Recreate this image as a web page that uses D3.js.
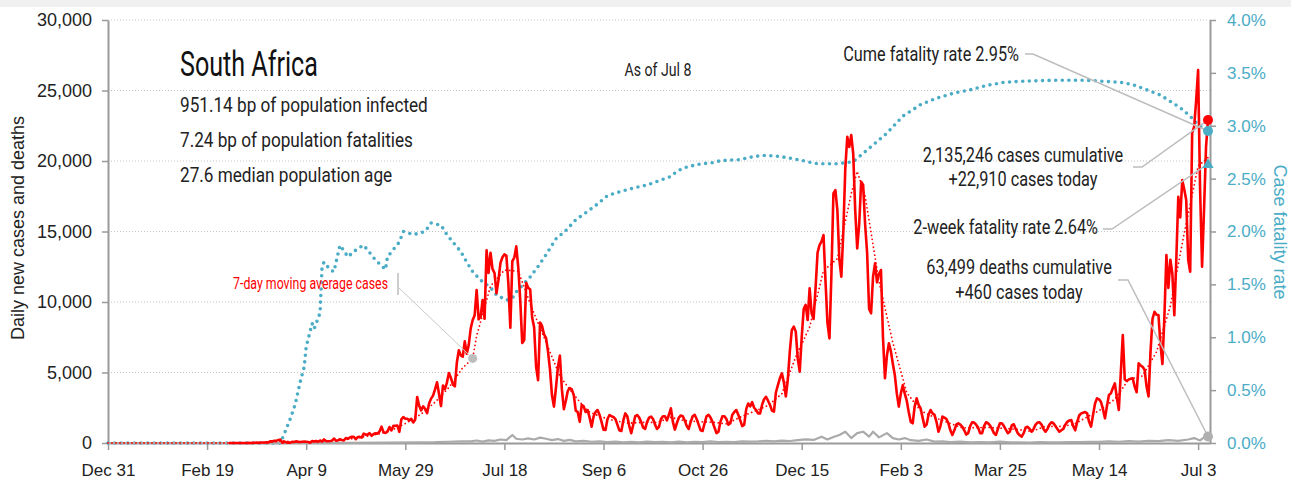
<!DOCTYPE html>
<html>
<head>
<meta charset="utf-8">
<script src="https://cdn.jsdelivr.net/npm/d3@7"></script>
<style>
  body { margin: 0; background: #fff; }
</style>
</head>
<body>
<script>
// all days are counted from Dec 31, 2019 (day 0)
var dayZero = Date.UTC(2019, 11, 31);
var lastAxisDay = 556;

// daily new cases, one value per day starting Mar 1, 2020 (day 61)
var casesFirstDay = 61;
var dailyCases = [
  0, 0, 0, 0, 1, 0, 1,
  1, 4, 0, 6, 3, 7, 14,
  24, 11, 31, 31, 34, 52, 38,
  128, 128, 152, 155, 218, 243, 17,
  93, 46, 27, 27, 82, 75, 123,
  77, 68, 92, 96, 87, 69, 25,
  145, 99, 143, 86, 178, 99, 251,
  143, 124, 142, 165, 318, 170, 188,
  267, 212, 179, 354, 297, 385, 437,
  447, 274, 424, 437, 380, 663, 595,
  595, 698, 511, 637, 685, 665, 817,
  1160, 767, 716, 803, 1134, 894, 1218,
  1218, 1240, 790, 1673, 1837, 1727, 1716,
  1605, 1716, 1455, 1671, 3267, 2642, 2312,
  2594, 2430, 2112, 2801, 3147, 3359, 3809,
  4302, 3494, 2618, 4078, 3825, 4288, 4966,
  4621, 4150, 4018, 5688, 6579, 6215, 6120,
  7210, 6334, 6945, 8124, 8728, 9063, 10853,
  8773, 8971, 10134, 8810, 13674, 12058, 13497,
  12348, 12058, 10621, 11554, 12757, 13172, 13373,
  13285, 11300, 8170, 12900, 13150, 13944, 12444,
  10100, 7100, 7300, 11360, 11000, 10900, 8900,
  8200, 5400, 4450, 8550, 8300, 7700, 7460,
  6500, 5200, 3400, 2580, 3900, 5400, 6200,
  3800, 2400, 3000, 3700, 3900, 3800, 3400,
  2300, 2200, 1500, 2700, 2600, 2200, 2340,
  1800, 1160, 1900, 2200, 2340, 2000, 1500,
  950, 920, 1700, 1985, 1900, 1850, 1700,
  1300, 900, 850, 1600, 2100, 1900, 1200,
  690, 1300, 1900, 1985, 1800, 1500, 1100,
  1000, 1500, 1800, 1870, 1700, 1300, 1000,
  1150, 1700, 1900, 1900, 1600, 2000, 2460,
  1500, 950, 1400, 1800, 1950, 1900, 1600,
  1200, 1000, 1500, 1900, 2000, 1700, 1300,
  900, 850, 1400, 1900, 2000, 1800, 1500,
  1100, 700, 800, 1500, 1900, 1900, 1700,
  1300, 1400, 2000, 2200, 2340, 2000, 1600,
  1200, 1300, 2400, 2800, 2600, 2900, 2500,
  2340, 2100, 2100, 2700, 3100, 3280, 3000,
  2700, 2300, 2220, 3600, 4110, 4600, 4940,
  4300, 3300, 4500, 6500, 8000, 8250, 7900,
  6000, 5060, 7500, 9500, 9800, 8720, 10970,
  9200, 8800, 11000, 13500, 14040, 14300, 14750,
  11500, 8500, 7420, 12000, 17700, 17940, 16500,
  13000, 11790, 15000, 19500, 21720, 21000, 21840,
  20500, 16500, 13800, 15500, 18530, 18300, 15500,
  13500, 9500, 9200, 11800, 12740, 11400, 12000,
  12270, 7500, 4590, 6200, 7070, 6500, 5600,
  4800, 3500, 2580, 3500, 4100, 3500, 3000,
  2200, 1500, 1400, 2600, 3170, 2700, 2450,
  1800, 1160, 1300, 2000, 2340, 2100, 2000,
  1500, 800, 1200, 1870, 1800, 1700, 1400,
  900, 570, 900, 1300, 1400, 1300, 1160,
  900, 600, 700, 1200, 1470, 1450, 1300,
  1100, 700, 700, 1200, 1470, 1400, 1250,
  1000, 700, 570, 1000, 1400, 1400, 1200,
  950, 700, 800, 1250, 1330, 1000, 700,
  550, 450, 700, 1100, 1150, 1000, 800,
  1000, 1300, 1450, 1470, 1300, 1000, 800,
  1000, 1300, 1470, 1400, 1200, 1000, 800,
  900, 1000, 1300, 1500, 1600, 1630, 1200,
  900, 1500, 1950, 2100, 2150, 2200, 2100,
  1500, 1160, 2000, 2800, 3170, 3100, 2900,
  2400, 1750, 2600, 3400, 3520, 3900, 4230,
  3200, 2340, 5000, 7660, 4500, 4400, 4500,
  4550, 4590, 4000, 3600, 5650, 5500, 5400,
  5200, 4000, 3300, 6500, 8800, 9310, 9100,
  9070, 7000, 5600, 9000, 13330, 11000, 13000,
  12000, 9070, 13000, 17460, 16000, 18650, 18000,
  17230, 13000, 12150, 21980, 22430, 24270, 26450,
  18000, 12500, 16585, 21000, 22910
];

// 7-day moving average of cases (dotted red)
var avgDays = [0, 67, 74, 81, 88, 95, 102, 109, 116, 123,
  130, 137, 144, 151, 158, 165, 172, 179, 184, 186,
  193, 200, 207, 214, 221, 228, 235, 242, 249, 256,
  263, 270, 277, 284, 291, 298, 305, 312, 319, 326,
  333, 340, 347, 354, 361, 368, 375, 378, 382, 389,
  396, 403, 410, 417, 424, 431, 438, 445, 452, 459,
  466, 473, 480, 487, 494, 501, 508, 515, 522, 529,
  536, 543, 550, 555];
var avgCases = [0, 0, 5, 32, 149, 68, 73, 143, 179, 304,
  460, 658, 956, 1457, 2052, 2893, 3939, 5342, 6000, 7600,
  11131, 12269, 12185, 9523, 7151, 4740, 3429, 2263, 1843, 1572,
  1407, 1468, 1453, 1816, 1586, 1514, 1479, 1357, 1834, 2243,
  2660, 3496, 6107, 8221, 12227, 13080, 17693, 19266, 17519, 11449,
  7104, 3569, 2289, 1814, 1439, 1076, 1089, 1103, 1039, 962,
  821, 1189, 1167, 1304, 1843, 2376, 3114, 4514, 4756, 6459,
  9714, 14883, 19644, 20245];
var avgNoteDay = 184;

// daily deaths (grey)
var deathDays = [0, 86, 100, 120, 140, 155, 165, 172, 178, 183,
  186, 189, 192, 195, 198, 201, 204, 206, 209, 212,
  215, 218, 221, 224, 227, 230, 233, 236, 240, 244,
  248, 252, 256, 260, 264, 268, 272, 276, 280, 284,
  288, 292, 296, 300, 304, 308, 312, 316, 320, 324,
  328, 332, 336, 340, 344, 348, 352, 356, 360, 363,
  366, 369, 372, 375, 378, 381, 384, 386, 389, 393,
  396, 399, 402, 405, 409, 413, 417, 421, 425, 430,
  435, 440, 445, 450, 455, 460, 465, 470, 475, 480,
  485, 490, 495, 500, 505, 510, 515, 520, 525, 530,
  535, 540, 545, 548, 551, 553, 555];
var dailyDeaths = [0, 0, 5, 10, 25, 50, 60, 90, 110, 110,
  180, 100, 190, 150, 250, 200, 570, 300, 250, 330,
  250, 380, 300, 200, 280, 150, 220, 120, 150, 90,
  120, 60, 100, 50, 80, 40, 100, 60, 90, 40,
  100, 50, 90, 60, 110, 70, 90, 60, 120, 100,
  110, 150, 110, 170, 140, 200, 260, 220, 450, 250,
  420, 570, 800, 350, 700, 800, 450, 800, 400, 700,
  350, 250, 350, 200, 150, 250, 100, 120, 60, 100,
  40, 60, 50, 100, 40, 50, 30, 60, 40, 50,
  70, 60, 90, 80, 110, 90, 130, 100, 150, 130,
  200, 150, 250, 350, 180, 400, 460];

// cumulative case fatality rate, percent (dotted teal, right axis)
var cfrDays = [0, 87, 89, 92, 94, 95, 97, 99, 100, 103,
  104, 107, 108, 109, 112, 114, 117, 119, 121, 126,
  129, 135, 140, 141, 144, 147, 149, 154, 160, 163,
  168, 171, 174, 178, 181, 184, 188, 193, 196, 201,
  204, 206, 210, 213, 217, 221, 226, 231, 236, 242,
  247, 252, 259, 265, 272, 278, 284, 287, 292, 299,
  305, 309, 319, 326, 332, 339, 348, 358, 368, 376,
  383, 393, 401, 410, 418, 427, 435, 443, 452, 460,
  477, 494, 511, 517, 524, 531, 536, 541, 546, 550,
  555];
var cfrPct = [0, 0, 0.09, 0.23, 0.34, 0.41, 0.58, 0.72, 0.91, 1.13,
  1.08, 1.23, 1.67, 1.71, 1.64, 1.62, 1.87, 1.82, 1.76, 1.84,
  1.87, 1.73, 1.64, 1.76, 1.83, 1.90, 2.00, 1.97, 2.00, 2.08,
  2.06, 1.97, 1.90, 1.81, 1.71, 1.62, 1.54, 1.47, 1.40, 1.35,
  1.37, 1.43, 1.51, 1.57, 1.67, 1.78, 1.93, 2.01, 2.11, 2.19,
  2.26, 2.34, 2.38, 2.41, 2.44, 2.48, 2.52, 2.57, 2.61, 2.64,
  2.65, 2.67, 2.68, 2.71, 2.72, 2.71, 2.68, 2.64, 2.64, 2.66,
  2.77, 2.93, 3.09, 3.20, 3.26, 3.31, 3.34, 3.38, 3.41, 3.42,
  3.43, 3.43, 3.41, 3.39, 3.34, 3.29, 3.23, 3.17, 3.09, 3.01,
  2.95];

// latest figures (Jul 8, 2021)
var latestDay = 555;
var casesToday = 22910;
var deathsToday = 460;
var totalCases = 2135246;
var totalDeaths = 63499;
var cumeFatality = 2.95;
var twoWeekFatality = 2.64;

var countryName = "South Africa";
var infoLines = ["951.14 bp of population infected", "7.24 bp of population fatalities", "27.6 median population age"];
var asOfText = "As of Jul 8";

// ticks
var xTickDays = [0, 50, 100, 150, 200, 250, 300, 350, 400, 450, 500, 550];
var yTicks = [0, 5000, 10000, 15000, 20000, 25000, 30000];
var rateTicks = [0, 0.5, 1, 1.5, 2, 2.5, 3, 3.5, 4];

// set the dimensions of the plot area
var W = 1291, H = 480;
var plot = {left: 108, right: 1210, top: 20, bottom: 443};

var red = "#ff0000", teal = "#4bacc6", grey = "#aaaaaa", axisGrey = "#9a9a9a", leader = "#bdbdbd";
var cond = 'Roboto, "Liberation Sans", sans-serif';
var plain = '"Liberation Sans", Arial, sans-serif';

function day(d) {
  return new Date(dayZero + d * 86400000);
}

var x = d3.scaleUtc()
  .domain([day(0), day(lastAxisDay)])
  .range([plot.left, plot.right]);
var y = d3.scaleLinear()
  .domain([0, 30000])
  .range([plot.bottom, plot.top]);
var yRate = d3.scaleLinear()
  .domain([0, 4])
  .range([plot.bottom, plot.top]);

var svg = d3.select("body").append("svg")
  .attr("width", W)
  .attr("height", H);

// thin grey band at the very top
svg.append("rect")
  .attr("x", 0).attr("y", 0)
  .attr("width", W).attr("height", 7)
  .attr("fill", "#f0f0f0");

// dotted gridlines
svg.append("g")
  .selectAll("line")
  .data(yTicks.filter(function (t) { return t > 0; }))
  .enter()
  .append("line")
  .attr("x1", plot.left)
  .attr("x2", plot.right)
  .attr("y1", function (d) { return y(d); })
  .attr("y2", function (d) { return y(d); })
  .attr("stroke", "#c4c4c4")
  .attr("stroke-width", 1)
  .attr("stroke-dasharray", "1,2");

// axes
var gx = svg.append("g")
  .attr("transform", "translate(0," + plot.bottom + ")")
  .call(d3.axisBottom(x)
    .tickValues(xTickDays.map(day))
    .tickFormat(d3.utcFormat("%b %-d"))
    .tickSize(7)
    .tickSizeOuter(0)
    .tickPadding(14));

var gy = svg.append("g")
  .attr("transform", "translate(" + plot.left + ",0)")
  .call(d3.axisLeft(y)
    .tickValues(yTicks)
    .tickFormat(d3.format(","))
    .tickSize(6)
    .tickSizeOuter(0)
    .tickPadding(10));

var gr = svg.append("g")
  .attr("transform", "translate(" + plot.right + ",0)")
  .call(d3.axisRight(yRate)
    .tickValues(rateTicks)
    .tickFormat(function (d) { return d.toFixed(1) + "%"; })
    .tickSize(6)
    .tickSizeOuter(0)
    .tickPadding(11));

[gx, gy, gr].forEach(function (g) {
  g.select(".domain").attr("stroke", axisGrey).attr("stroke-width", 2);
  g.selectAll(".tick line").attr("stroke", axisGrey).attr("stroke-width", 1.5);
  g.selectAll(".tick text")
    .style("font-family", plain)
    .style("font-size", "17px")
    .attr("fill", "#222");
});
gy.selectAll(".tick text").style("font-size", "18px");
gr.selectAll(".tick text").attr("fill", teal);

// axis titles
svg.append("text")
  .attr("transform", "translate(24,228) rotate(-90)")
  .style("text-anchor", "middle")
  .style("font-family", plain)
  .style("font-size", "18px")
  .attr("fill", "#222")
  .text("Daily new cases and deaths");

svg.append("text")
  .attr("transform", "translate(1274,232) rotate(90)")
  .style("text-anchor", "middle")
  .style("font-family", plain)
  .style("font-size", "18px")
  .attr("fill", teal)
  .text("Case fatality rate");

// series
var caseData = dailyCases.map(function (v, i) { return {d: casesFirstDay + i, v: v}; });
var avgData = avgDays.map(function (d, i) { return {d: d, v: avgCases[i]}; });
var deathData = deathDays.map(function (d, i) { return {d: d, v: dailyDeaths[i]}; });
var cfrData = cfrDays.map(function (d, i) { return {d: d, v: cfrPct[i]}; });

var countLine = d3.line()
  .x(function (p) { return x(day(p.d)); })
  .y(function (p) { return y(p.v); });
var rateLine = d3.line()
  .x(function (p) { return x(day(p.d)); })
  .y(function (p) { return yRate(p.v); });

svg.append("path")
  .datum(cfrData)
  .attr("fill", "none")
  .attr("stroke", teal)
  .attr("stroke-width", 3.6)
  .attr("stroke-linecap", "round")
  .attr("stroke-dasharray", "0,6.6")
  .attr("d", rateLine);

svg.append("path")
  .datum(deathData)
  .attr("fill", "none")
  .attr("stroke", grey)
  .attr("stroke-width", 2.2)
  .attr("stroke-linejoin", "round")
  .attr("d", countLine);

svg.append("path")
  .datum(caseData)
  .attr("fill", "none")
  .attr("stroke", red)
  .attr("stroke-width", 2.6)
  .attr("stroke-linejoin", "round")
  .attr("d", countLine);

svg.append("path")
  .datum(avgData)
  .attr("fill", "none")
  .attr("stroke", red)
  .attr("stroke-width", 1.8)
  .attr("stroke-linecap", "round")
  .attr("stroke-dasharray", "0,4")
  .attr("d", countLine);

// text helper: the reference uses a narrow face, so squeeze Roboto sideways.
// sx is the horizontal scale, xx/yy the anchor point
function label(txt, xx, yy, size, sx, anchor, color) {
  return svg.append("text")
    .attr("transform", "translate(" + xx + "," + yy + ") scale(" + sx + ",1)")
    .style("text-anchor", anchor || "start")
    .style("font-family", cond)
    .style("font-size", size + "px")
    .attr("fill", color || "#222")
    .text(txt);
}
// scale that makes a string fit a width measured on the reference
function fitScale(txt, size, width) {
  var t = svg.append("text")
    .style("font-family", cond)
    .style("font-size", size + "px")
    .text(txt);
  var w = t.node().getComputedTextLength();
  t.remove();
  return width / w;
}

// text block top left
label(countryName, 180, 76, 35, fitScale(countryName, 35, 138), "start", "#111");

var infoScale = fitScale(infoLines[0], 20, 248);
infoLines.forEach(function (t, i) {
  label(t, 180, 112 + i * 35, 20, infoScale);
});

label(asOfText, 658, 76, 18, fitScale(asOfText, 18, 67), "middle");

// right side annotations
var lastX = x(day(latestDay));
var fmt = d3.format(",");
var cumeText = "Cume fatality rate " + cumeFatality.toFixed(2) + "%";
var noteScale = fitScale(cumeText, 20, 176);

function leaderLine(pts) {
  svg.append("path")
    .attr("d", d3.line()(pts))
    .attr("fill", "none")
    .attr("stroke", leader)
    .attr("stroke-width", 1.5);
}

label(cumeText, 1019, 61, 20, noteScale, "end");
leaderLine([[1025, 54], [1033, 54], [lastX, yRate(cumeFatality)]]);

label(fmt(totalCases) + " cases cumulative", 1023, 162, 20, noteScale, "middle");
label("+" + fmt(casesToday) + " cases today", 1023, 186, 20, noteScale, "middle");
leaderLine([[1133, 167], [1142, 167], [lastX, y(casesToday)]]);

label("2-week fatality rate " + twoWeekFatality.toFixed(2) + "%", 1098, 234, 20, noteScale, "end");
leaderLine([[1103, 229], [1112, 229], [lastX, yRate(twoWeekFatality)]]);

label(fmt(totalDeaths) + " deaths cumulative", 1019, 274, 20, noteScale, "middle");
label("+" + fmt(deathsToday) + " cases today", 1019, 299, 20, noteScale, "middle");
leaderLine([[1118, 280], [1128, 280], [lastX, y(deathsToday)]]);

// end markers
svg.append("circle")
  .attr("cx", lastX).attr("cy", y(casesToday)).attr("r", 5)
  .attr("fill", red);
svg.append("circle")
  .attr("cx", lastX).attr("cy", yRate(cumeFatality)).attr("r", 5)
  .attr("fill", teal);
svg.append("path")
  .attr("d", d3.symbol(d3.symbolTriangle).size(55)())
  .attr("transform", "translate(" + lastX + "," + (yRate(twoWeekFatality) + 1) + ")")
  .attr("fill", teal);
svg.append("circle")
  .attr("cx", lastX).attr("cy", y(deathsToday)).attr("r", 5)
  .attr("fill", "#b0b0b0");

// 7-day average label with pointer
var avgNote = avgData.filter(function (p) { return p.d === avgNoteDay; })[0];
var avgLabel = "7-day moving average cases";
label(avgLabel, 388, 289, 17, fitScale(avgLabel, 17, 155), "end", red);
leaderLine([[398, 273], [398, 295]]);
svg.append("path")
  .attr("d", d3.line()([[398, 287], [x(day(avgNote.d)), y(avgNote.v)]]))
  .attr("stroke", "#c8c8c8")
  .attr("stroke-width", 1);
svg.append("circle")
  .attr("cx", x(day(avgNote.d))).attr("cy", y(avgNote.v)).attr("r", 4.5)
  .attr("fill", "#bdbdbd");
</script>
</body>
</html>
